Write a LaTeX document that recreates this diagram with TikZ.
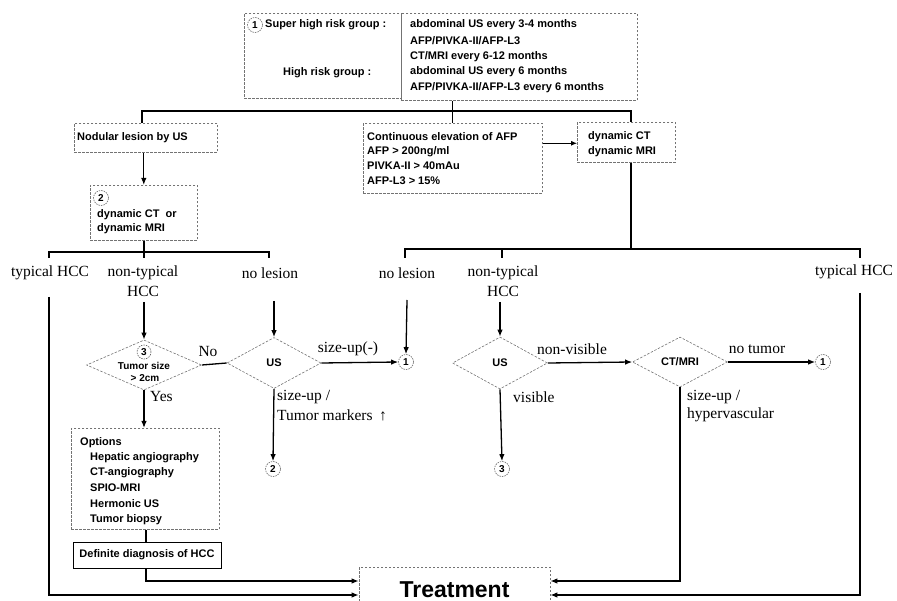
\documentclass[tikz,border=0pt]{standalone}
\usepackage{fontspec}
\setmainfont{Liberation Serif}
\newfontfamily\gth{Liberation Sans}
\usetikzlibrary{shapes.geometric,arrows.meta}
\begin{document}
\begin{tikzpicture}[x=1pt,y=-1pt,
  conn/.style={line width=1.3pt},
  arr/.style={line width=1.3pt,-{Latex[length=7pt,width=5.5pt]}},
  dbox/.style={draw=black!55,line width=0.6pt,dash pattern=on 2.5pt off 1.5pt,rectangle,inner sep=0pt},
  dia/.style={draw=black!55,line width=0.6pt,dash pattern=on 2.5pt off 1.5pt,diamond,inner sep=0pt},
  num/.style={draw=black!60,line width=0.6pt,dash pattern=on 1.5pt off 1pt,circle,inner sep=0pt,minimum size=15pt,font=\gth\bfseries\fontsize{10}{10}\selectfont},
  lab/.style={font=\fontsize{15.5}{17}\selectfont,inner sep=0pt},
  sm/.style={font=\gth\bfseries\fontsize{11}{13}\selectfont,inner sep=0pt},
  smm/.style={font=\gth\bfseries\fontsize{10}{12}\selectfont,inner sep=0pt},
]
\useasboundingbox (0,0) rectangle (897,601);
\clip (0,0) rectangle (897,601);

% ---------- top box ----------
\node[dbox,anchor=north west,minimum width=157pt,minimum height=85pt] (topL) at (244,13) {};
\node[dbox,anchor=north west,minimum width=236pt,minimum height=87pt] (topR) at (401,13) {};
\node[num] (n1top) at (255,25) {1};
\node[sm,anchor=west] (shr) at (265,25) {Super high risk group :};
\node[sm,anchor=west] (hr) at (283,73) {High risk group :};
\node[sm,anchor=west] (r1) at (410,25) {abdominal US every 3-4 months};
\node[sm,anchor=west] (r2) at (410,41) {AFP/PIVKA-II/AFP-L3};
\node[sm,anchor=west] (r3) at (410,57) {CT/MRI every 6-12 months};
\node[sm,anchor=west] (r4) at (410,72) {abdominal US every 6 months};
\node[sm,anchor=west] (r5) at (410,88) {AFP/PIVKA-II/AFP-L3 every 6 months};

% ---------- second row boxes ----------
\node[dbox,anchor=north west,minimum width=143pt,minimum height=29pt] (nod) at (74,123) {};
\node[sm,anchor=west] (nodT) at (77,138) {Nodular lesion by US};

\node[dbox,anchor=north west,minimum width=179pt,minimum height=70pt] (cont) at (363,123) {};
\node[sm,anchor=west] (c1) at (367,137) {Continuous elevation of AFP};
\node[sm,anchor=west] (c2) at (367,152) {AFP > 200ng/ml};
\node[sm,anchor=west] (c3) at (367,166) {PIVKA-II > 40mAu};
\node[sm,anchor=west] (c4) at (367,181) {AFP-L3 > 15\%};

\node[dbox,anchor=north west,minimum width=98pt,minimum height=40pt] (dct) at (577,122) {};
\node[sm,anchor=west] (d1) at (588,137) {dynamic CT};
\node[sm,anchor=west] (d2) at (588,152) {dynamic MRI};

\node[dbox,anchor=north west,minimum width=107pt,minimum height=55pt] (box2) at (90,185) {};
\node[num] (n2in) at (101,198) {2};
\node[sm,anchor=west] (b1) at (97,215) {dynamic CT\ \ or};
\node[sm,anchor=west] (b2) at (97,229) {dynamic MRI};

% ---------- top connectors ----------
\coordinate (hL) at (142,111);
\coordinate (hR) at (631,111);
\draw[conn] (topR.south -| cont.north) -- (cont.north);
\draw[conn] (hL |- nod.north) -- (hL) -- (hR) -- (hR |- dct.north);
\draw[arr] (nod.south -| box2.north) -- (box2.north);
\draw[line width=0.8pt,-{Latex[length=6pt,width=5pt]}] ([yshift=15pt]cont.east) -- ([yshift=15pt]cont.east -| dct.west);

% ---------- left branch ----------
\coordinate (bL) at (49,252);
\coordinate (bR) at (269,252);
\coordinate (bLt) at (49,258);
\coordinate (bRt) at (269,258);
\coordinate (bM) at (144,252);
\coordinate (bMt) at (144,258);
\draw[conn] (box2.south -| bM) -- (bMt);
\draw[conn] (bLt) -- (bL) -- (bR) -- (bRt);
\node[lab] (typL) at (50,273) {typical HCC};
\node[lab] (ntL) at (143,273) {non-typical};
\node[lab] (ntL2) at (143,291) {HCC};
\node[lab] (nlL) at (270,273) {no lesion};

% ---------- right branch ----------
\coordinate (gR1) at (405,249);
\coordinate (gR2) at (860,249);
\coordinate (gR1t) at (405,258);
\coordinate (gR2t) at (860,258);
\coordinate (gM) at (502,249);
\coordinate (gMt) at (502,258);
\draw[conn] (dct.south -| hR) -- (hR |- gR1);
\draw[conn] (gR1t) -- (gR1) -- (gR2) -- (gR2t);
\draw[conn] (gM) -- (gMt);
\node[lab] (nlR) at (407,273) {no lesion};
\node[lab] (ntR) at (503,273) {non-typical};
\node[lab] (ntR2) at (503,291) {HCC};
\node[lab] (typR) at (854,272) {typical HCC};

% ---------- diamonds ----------
\node[dia,minimum width=115pt,minimum height=50pt] (d3) at (144,365) {};
\node[num,minimum size=14pt] (n3in) at (144,352) {3};
\node[smm] (d3a) at (144,366) {Tumor size};
\node[smm] (d3b) at (145,378) {> 2cm};

\node[dia,minimum width=94pt,minimum height=51pt] (usL) at (274,363) {};
\node[sm] (usLT) at (274,363) {US};

\node[dia,minimum width=95pt,minimum height=52pt] (usR) at (500,363) {};
\node[sm] (usRT) at (500,363) {US};

\node[dia,minimum width=95pt,minimum height=50pt] (ctm) at (680,362) {};
\node[sm] (ctmT) at (680,362) {CT/MRI};

% ---------- circles ----------
\node[num] (c1a) at (406,362) {1};
\node[num] (c2b) at (273,469) {2};
\node[num] (c3b) at (502,469) {3};
\node[num] (c1b) at (823,362) {1};

% ---------- middle connectors ----------
\coordinate (tl1) at (49,297);
\coordinate (tl2) at (49,595);
\coordinate (ntLs) at (144,302);
\coordinate (nlLs) at (274,301);
\coordinate (nlRs) at (407,300);
\coordinate (ntRs) at (500,302);
\coordinate (tr1) at (860,293);
\coordinate (tr2) at (860,595);

\draw[arr] (ntLs) -- (d3.north);
\draw[conn] (d3.east) -- (usL.west);
\draw[arr] (nlLs) -- (usL.north);
\draw[arr] (usL.east) -- (c1a.west);
\draw[arr] (nlRs) -- (c1a.north);
\draw[arr] (usL.south) -- (c2b.north);
\draw[arr] (ntRs) -- (usR.north);
\draw[arr] (usR.east) -- (ctm.west);
\draw[arr] (ctm.east) -- (c1b.west);
\draw[arr] (usR.south) -- (c3b.north);

\node[lab] (noT) at (208,352) {No};
\node[lab,anchor=west] (yesT) at (150,397) {Yes};
\node[lab] (suT) at (348,349) {size-up(-)};
\node[lab,anchor=west] (su2a) at (277,397) {size-up /};
\node[lab,anchor=west] (su2b) at (277,415) {Tumor markers \,↑};
\node[lab] (nvT) at (572,349) {non-visible};
\node[lab,anchor=west] (visT) at (513,397) {visible};
\node[lab] (ntuT) at (757,349) {no tumor};
\node[lab,anchor=west] (su3a) at (687,397) {size-up /};
\node[lab,anchor=west] (su3b) at (687,415) {hypervascular};

% ---------- options & definite ----------
\node[dbox,anchor=north west,minimum width=148pt,minimum height=101pt] (opts) at (71,428) {};
\node[sm,anchor=west] (o0) at (80,443) {Options};
\node[sm,anchor=west] (o1) at (90,458) {Hepatic angiography};
\node[sm,anchor=west] (o2) at (90,473) {CT-angiography};
\node[sm,anchor=west] (o3) at (90,488) {SPIO-MRI};
\node[sm,anchor=west] (o4) at (90,504) {Hermonic US};
\node[sm,anchor=west] (o5) at (90,520) {Tumor biopsy};
\draw[arr] (d3.south) -- (d3.south |- opts.north);

\node[draw,line width=0.9pt,sm,minimum width=148pt,minimum height=26pt] (defd) at (147,555) {Definite diagnosis of HCC};
\coordinate (dd) at (146,581);
\draw[conn] (opts.south -| dd) -- (defd.north -| dd);

% ---------- treatment ----------
\node[dbox,font=\gth\bfseries\fontsize{23}{25}\selectfont,minimum width=191pt,minimum height=46pt] (treat) at (454.5,590) {Treatment};
\coordinate (ctb) at (680,581);

\draw[arr] (defd.south -| dd) -- (dd) -- (dd -| treat.west);
\draw[arr] (tl1) -- (tl2) -- (tl2 -| treat.west);
\draw[arr] (ctm.south) -- (ctb) -- (ctb -| treat.east);
\draw[arr] (tr1) -- (tr2) -- (tr2 -| treat.east);
\end{tikzpicture}
\end{document}
